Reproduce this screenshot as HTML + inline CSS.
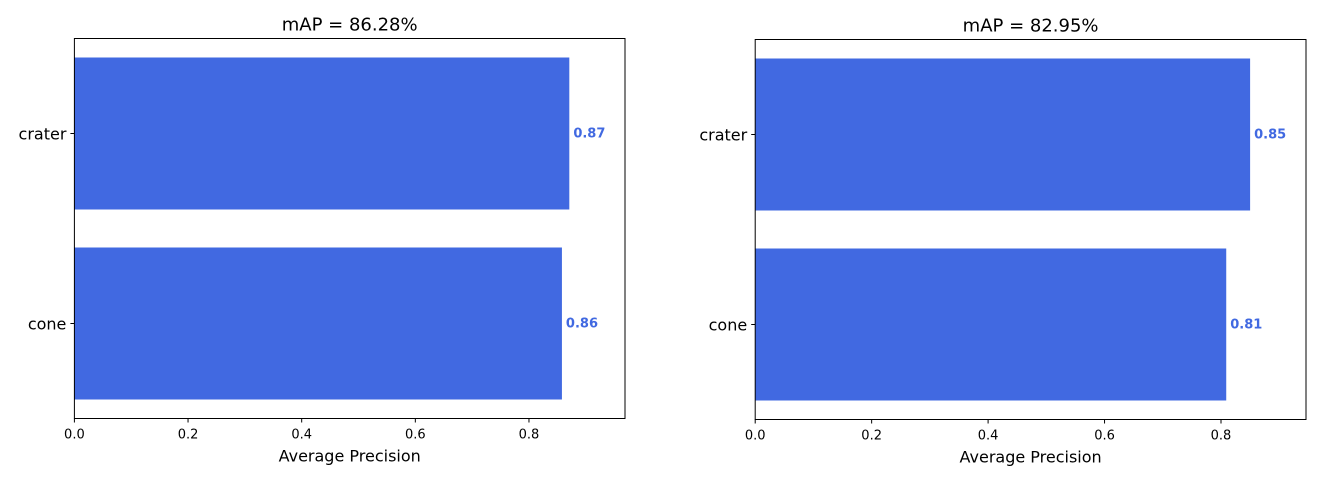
<!DOCTYPE html>
<html><head><meta charset="utf-8"><style>
body{margin:0;background:#fff;}
svg text{font-family:"DejaVu Sans","Liberation Sans",sans-serif;}
</style></head><body>
<svg id="svg" width="1334" height="487" xmlns="http://www.w3.org/2000/svg"></svg>
<script>
const categories = ["crater", "cone"];
const leftValues = [0.871, 0.858];
const rightValues = [0.850, 0.809];
const leftTitles = ["mAP = 86.28%"];
const rightTitles = ["mAP = 82.95%"];
const tickValues = [0.0, 0.2, 0.4, 0.6, 0.8];
const tickLabels = ["0.0", "0.2", "0.4", "0.6", "0.8"];

const svg = document.getElementById('svg');
const NS = "http://www.w3.org/2000/svg";
function mk(tag, attrs, parent){const e=document.createElementNS(NS,tag);for(const k in attrs)e.setAttribute(k,attrs[k]);(parent||svg).appendChild(e);return e;}

function panel(name, x0, x1, y0, y1, xmax, values, title){
  const g = mk('g',{});
  
  
  const xs = v => x0 + v/xmax*(x1-x0);
  const n = categories.length;
  const slot = (y1-y0)/n;
  const bh = slot*0.8;
  categories.forEach((c,i)=>{
    const cy = y0 + slot*(i+0.5);
    const r = mk('rect',{x:xs(0),y:cy-bh/2,width:xs(values[i])-xs(0),height:bh,fill:'#4169E1'},g);
    
    
    const t = mk('text',{x:xs(values[i])+4,y:cy+4,'font-size':13,'font-weight':'bold',fill:'#4169E1'},g);
    t.textContent = values[i].toFixed(2);
    
    
    mk('line',{x1:x0-4,x2:x0,y1:cy,y2:cy,stroke:'#000','stroke-width':1},g);
    const yl = mk('text',{x:x0-8,y:cy+6,'font-size':16,'text-anchor':'end',fill:'#000'},g);
    yl.textContent = c;
    
    
  });
  mk('rect',{x:x0,y:y0,width:x1-x0,height:y1-y0,fill:'none',stroke:'#000','stroke-width':1},g);
  tickValues.forEach((v,i)=>{
    const x = xs(v);
    mk('line',{x1:x,x2:x,y1:y1,y2:y1+4,stroke:'#000','stroke-width':1},g);
    const t = mk('text',{x:x,y:y1+20,'font-size':13,'text-anchor':'middle',fill:'#000'},g);
    t.textContent = tickLabels[i];
    
    
  });
  const xl = mk('text',{x:(x0+x1)/2,y:y1+43,'font-size':16,'text-anchor':'middle',fill:'#000'},g);
  xl.textContent = 'Average Precision';
  
  
  const tt = mk('text',{x:(x0+x1)/2,y:y0-8,'font-size':18,'text-anchor':'middle',fill:'#000'},g);
  tt.textContent = title;
  
  
}
panel('left-panel', 74.4, 625, 38.5, 418.5, 0.969, leftValues, leftTitles[0]);
panel('right-panel', 755.2, 1306, 39.5, 419.5, 0.946, rightValues, rightTitles[0]);
</script>
</body></html>
